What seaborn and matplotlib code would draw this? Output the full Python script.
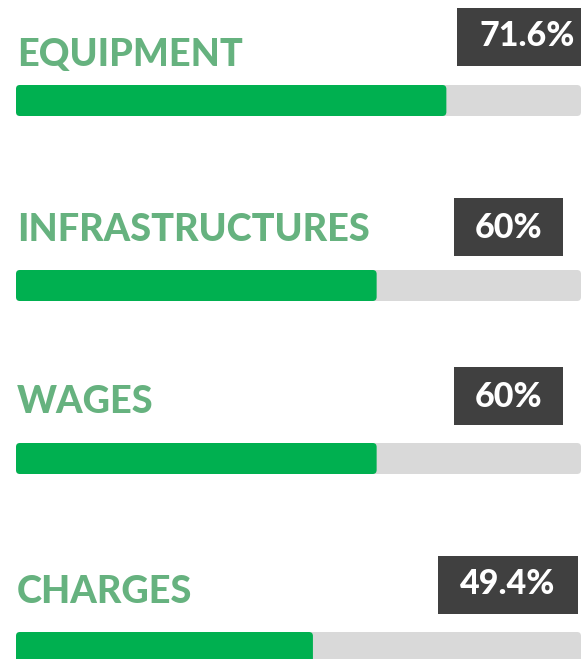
import matplotlib
matplotlib.use("Agg")
import matplotlib.pyplot as plt
from matplotlib.patches import FancyBboxPatch, Rectangle
import seaborn as sns

categories = ["EQUIPMENT", "INFRASTRUCTURES", "WAGES", "CHARGES"]
values = [71.6, 60, 60, 49.4]
value_labels = ["71.6%", "60%", "60%", "49.4%"]

W, H = 581, 659
scale_max = 94  # value reaching the right end of the grey track

# layout, in pixels from the top left
bar_left, bar_right, bar_h = 16, 581, 31
bar_top = [85, 270, 443, 632]
label_base = [66, 241, 413, 603]
value_base = [46, 238, 407, 594]
boxes = [(457, 8, 140, 58), (454, 198, 109, 58), (454, 367, 109, 58), (438, 556, 140, 58)]

green = "#00b050"
track = "#d9d9d9"
label_green = "#66b27f"
dark = "#404040"

sns.set_theme(style="white")
plt.rcParams['font.family'] = ['Lato', 'DejaVu Sans']

fig = plt.figure(figsize=(W / 100, H / 100), dpi=100)


def fx(px):
    return px / W


def fy(py):
    return 1 - py / H


def rounded(x, y, w, h, fc, zorder, radius_px=4):
    # round corners in pixels, axes x and y have very different scales
    px_per_x = (bar_right - bar_left) / scale_max
    r = radius_px / px_per_x
    aspect = (radius_px / bar_h) / r
    return FancyBboxPatch((x, y), w, h,
                          boxstyle=f"round,pad=0,rounding_size={r}",
                          mutation_aspect=aspect, fc=fc, ec='none',
                          clip_on=False, zorder=zorder)


for i, (cat, val, lab) in enumerate(zip(categories, values, value_labels)):
    ax = fig.add_axes([fx(bar_left), fy(bar_top[i] + bar_h),
                       fx(bar_right) - fx(bar_left), bar_h / H])
    ax.add_patch(rounded(0, -0.5, scale_max, 1, track, 1))
    sns.barplot(x=[val], y=[cat], orient='h', color=green, saturation=1,
                width=1, ax=ax)
    for p in list(ax.patches)[1:]:
        x, y, w, h = p.get_x(), p.get_y(), p.get_width(), p.get_height()
        p.remove()
        ax.add_patch(rounded(x, y, w, h, green, 3))
    ax.set_xlim(0, scale_max)
    ax.set_ylim(0.5, -0.5)
    ax.axis('off')

    fig.text(fx(17), fy(label_base[i]), cat, color=label_green,
             fontsize=27.3, fontweight='black', ha='left', va='baseline')

    bx, by, bw, bh = boxes[i]
    fig.add_artist(Rectangle((fx(bx), fy(by + bh)), bw / W, bh / H,
                             transform=fig.transFigure, fc=dark, ec='none'))
    fig.text(fx(bx + bw / 2), fy(value_base[i]), lab, color='white',
             fontsize=24.5, fontweight='black', ha='center', va='baseline')

fig.savefig("out.png", dpi=100)
